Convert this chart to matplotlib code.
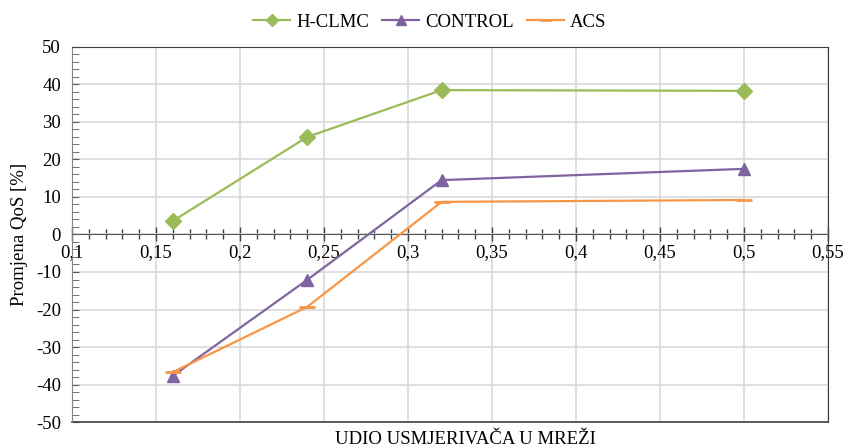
import numpy as np
import matplotlib
matplotlib.use("Agg")
import matplotlib.pyplot as plt
from matplotlib.ticker import MultipleLocator, FuncFormatter

plt.rcParams['font.family'] = ['Liberation Serif', 'DejaVu Serif']

# data
udio = [0.16, 0.24, 0.32, 0.5]
hclmc = [3.6, 26.0, 38.5, 38.3]
control = [-37.7, -12.1, 14.5, 17.5]
acs = [-36.7, -19.3, 8.7, 9.2]

fig = plt.figure(figsize=(8.45, 4.47), dpi=100)
ax = fig.add_axes([0.0852, 0.0559, 0.8947, 0.839])

ax.plot(udio, hclmc, color='#9BBB59', lw=1.6, marker='D', ms=8, label='H-CLMC', zorder=3)
ax.plot(udio, control, color='#8064A2', lw=1.6, marker='^', ms=9, label='CONTROL', zorder=3)
ax.plot(udio, acs, color='#F79646', lw=1.6, marker='_', ms=12, mew=2, label='ACS', zorder=3)

ax.set_xlim(0.1, 0.55)
ax.set_ylim(-50, 50)
ax.xaxis.set_major_locator(MultipleLocator(0.05))
ax.xaxis.set_minor_locator(MultipleLocator(0.01))
ax.yaxis.set_major_locator(MultipleLocator(10))
ax.yaxis.set_minor_locator(MultipleLocator(2))
ax.xaxis.set_major_formatter(FuncFormatter(lambda v, p: ('%g' % round(v, 2)).replace('.', ',')))
ax.yaxis.set_major_formatter(FuncFormatter(lambda v, p: '%d' % round(v)))

ax.grid(True, which='major', color='#D9D9D9', lw=1.2)
ax.set_axisbelow(True)

# x axis crosses at y = 0
ax.spines['bottom'].set_position(('data', 0))
ax.spines['bottom'].set_color('#595959')
ax.spines['left'].set_color('#868686')
for s in ['top', 'right']:
    ax.spines[s].set_color('#404040')
ax.plot([0, 1], [0, 0], transform=ax.transAxes, color='#404040', lw=1.2, clip_on=False)

ax.tick_params(axis='x', which='major', direction='inout', length=10, width=1, color='#404040',
               labelsize=13.5, pad=2)
ax.tick_params(axis='x', which='minor', direction='inout', length=7, width=1, color='#404040')
ax.tick_params(axis='y', which='major', direction='in', length=5, color='#595959', labelsize=13.5, pad=8)
ax.tick_params(axis='y', which='minor', direction='in', length=5, color='#595959')

ax.set_ylabel('Promjena QoS [%]', fontsize=13.5, labelpad=6)
ax.set_xlabel('UDIO USMJERIVAČA U MREŽI', fontsize=13.5, va='top')
ax.xaxis.set_label_coords(0.52, -0.024)

ax.legend(loc='center', bbox_to_anchor=(0.473, 1.066), ncol=3, frameon=False, fontsize=13.5,
          handlelength=2.0, columnspacing=0.7, handletextpad=0.3, markerscale=0.75)

fig.savefig('out.png', dpi=100)
